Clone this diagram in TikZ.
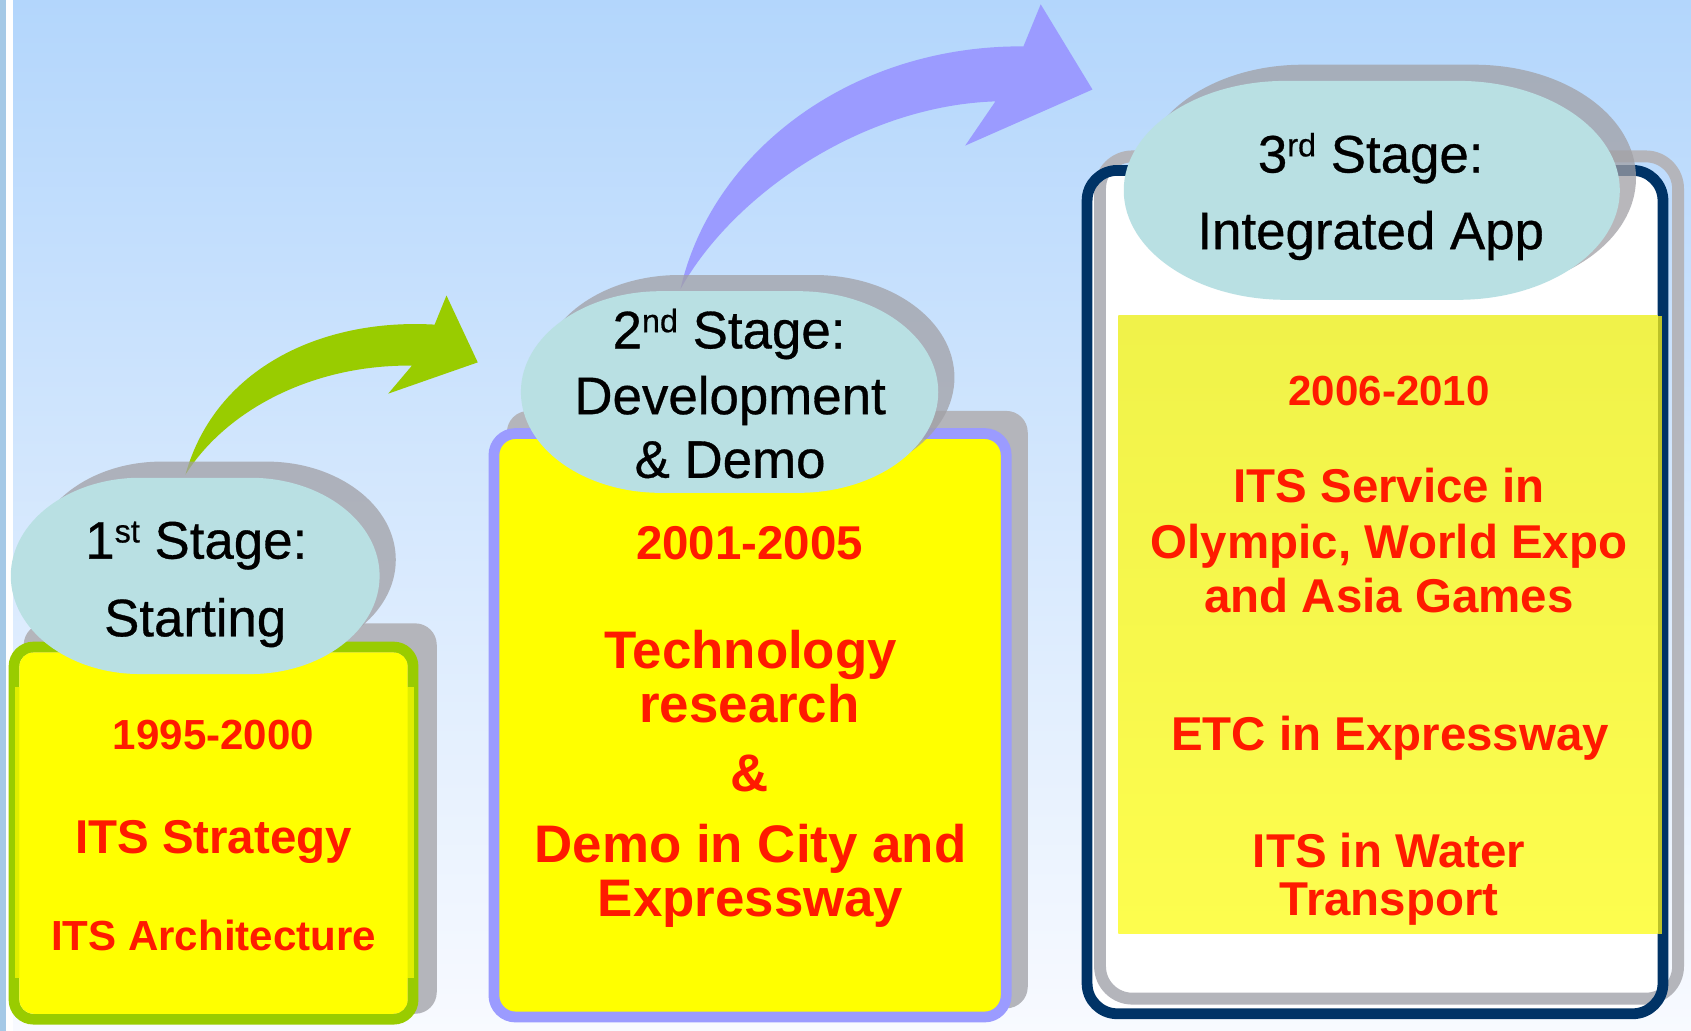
\documentclass[tikz,border=0pt]{standalone}
\usepackage{fontspec}
\setmainfont{Liberation Sans}
\newfontfamily\stagefont{Liberation Sans}[FakeBold=0.6]
\definecolor{bgtop}{HTML}{B3D6FC}
\definecolor{bgbot}{HTML}{F8FAFF}
\definecolor{leftblue}{HTML}{A5C9E6}
\definecolor{arrgreen}{HTML}{99CC00}
\definecolor{greenband}{HTML}{E0EE00}
\definecolor{arrblue}{HTML}{9B9BFF}
\definecolor{boxshadow}{HTML}{B4B5BB}
\definecolor{pillshadow}{HTML}{A1A0A5}
\definecolor{pillcyan}{HTML}{B9E0E3}
\definecolor{boxyellow}{HTML}{FFFF00}
\definecolor{yellowtop}{HTML}{F0F24A}
\definecolor{yellowbot}{HTML}{FDFD4E}
\definecolor{olivestrip}{HTML}{BCC228}
\definecolor{navy}{HTML}{003366}
\definecolor{itsred}{HTML}{FF1A00}
\newcommand\sups[1]{\raisebox{15pt}{\fontsize{30}{30}\selectfont #1}}
% pill: x1 y1 x2 y2 rx
\newcommand\pillpath[5]{%
  ({#1+#5},#2) -- ({#3-#5},#2)
  arc[start angle=-90, end angle=90, x radius=#5, y radius={(#4-#2)/2}]
  -- ({#1+#5},#4)
  arc[start angle=90, end angle=270, x radius=#5, y radius={(#4-#2)/2}] -- cycle}
\tikzset{
  stagetxt/.style={font=\stagefont\fontsize{49}{49}\selectfont, anchor=base, inner sep=0pt, text=black},
  redsmall/.style={font=\bfseries\fontsize{39}{39}\selectfont, anchor=base, inner sep=0pt, text=itsred},
  redmid/.style={font=\bfseries\fontsize{44}{44}\selectfont, anchor=base, inner sep=0pt, text=itsred},
  redbig/.style={font=\bfseries\fontsize{49}{49}\selectfont, anchor=base, inner sep=0pt, text=itsred},
  boxshade/.style={fill=boxshadow, rounded corners=20pt},
  pillshade/.style={fill=pillshadow, fill opacity=0.75},
  pillfill/.style={fill=pillcyan},
}
\begin{document}
\begin{tikzpicture}[x=1pt,y=-1pt]
\useasboundingbox (0,0) rectangle (1568,956);
% background
\shade[top color=bgtop, bottom color=bgbot] (0,0) rectangle (1568,956);
\fill[leftblue] (0,0) rectangle (6,956);
\fill[white] (6,0) rectangle (12,956);

% arrows
\fill[arrgreen] (172,440) .. controls (200,340) and (300,295) .. (403,301)
  -- (414,274) -- (443,336) -- (360,365) -- (382,339)
  .. controls (290,338) and (210,380) .. (172,440) -- cycle;
\fill[arrblue] (631,268) .. controls (660,140) and (790,42) .. (949,43)
  -- (965,4) -- (1013,83) -- (895,135) -- (923,94)
  .. controls (800,98) and (680,180) .. (631,268) -- cycle;

% ---------- stage 1 ----------
\fill[boxshade] (22,578) rectangle (405,940);
\draw[line width=10pt, draw=arrgreen, rounded corners=18pt] (13,600) rectangle (383,945);
\fill[greenband] (13.5,637) rectangle (384,907);
\fill[boxyellow, rounded corners=13pt] (18,605) rectangle (378,940);
\fill[pillshade] \pillpath{30}{428}{367}{610}{120};
\fill[pillfill] \pillpath{10}{443}{352}{625}{120};
\node[stagetxt] (s1a) at (182,518) {1\sups{st} Stage:};
\node[stagetxt] (s1b) at (181,590) {Starting};
\node[redsmall] (y1) at (198,695) {1995-2000};
\node[redmid] (r1a) at (198,791) {ITS Strategy};
\node[redsmall] (r1b) at (198,881) {ITS Architecture};

% ---------- stage 2 ----------
\fill[boxshade] (470,381) rectangle (953,935);
\draw[line width=10pt, draw=arrblue, fill=boxyellow, rounded corners=20pt] (458,402) rectangle (933,943);
\fill[pillshade] \pillpath{500}{255}{885}{445}{130};
\fill[pillfill] \pillpath{483}{270}{870}{457}{130};
\node[stagetxt] (s2a) at (676,323) {2\sups{nd} Stage:};
\node[stagetxt] (s2b) at (677,384) {Development};
\node[stagetxt] (s2c) at (677,443) {\& Demo};
\node[redmid] (y2) at (695,519) {2001-2005};
\node[redbig] (r2a) at (696,620) {Technology};
\node[redbig] (r2b) at (695,670) {research};
\node[redbig] (r2c) at (695,734) {\&};
\node[redbig] (r2d) at (696,800) {Demo in City and};
\node[redbig] (r2e) at (696,850) {Expressway};

% ---------- stage 3 ----------
\fill[white, rounded corners=26pt] (1008,158) rectangle (1542,940);
\draw[line width=11pt, draw=boxshadow, rounded corners=30pt] (1020,145) rectangle (1556,926);
\draw[line width=10pt, draw=navy, rounded corners=28pt] (1008,158) rectangle (1542,940);
\shade[top color=yellowtop, bottom color=yellowbot] (1037,293) rectangle (1537,866);
\fill[olivestrip] (1537,293) rectangle (1541,866);
\fill[pillshade] \pillpath{1058}{60}{1517}{270}{150};
\fill[pillfill] \pillpath{1042}{75}{1502}{278}{150};
\node[stagetxt] (s3a) at (1271,160) {3\sups{rd} Stage:};
\node[stagetxt] (s3b) at (1271,231) {Integrated App};
\node[redsmall] (y3) at (1288,376) {2006-2010};
\node[redmid] (r3a) at (1288,466) {ITS Service in};
\node[redmid] (r3b) at (1288,518) {Olympic, World Expo};
\node[redmid] (r3c) at (1288,568) {and Asia Games};
\node[redmid] (r3d) at (1289,696) {ETC in Expressway};
\node[redmid] (r3e) at (1288,804) {ITS in Water};
\node[redmid] (r3f) at (1288,849) {Transport};
\end{tikzpicture}
\end{document}
